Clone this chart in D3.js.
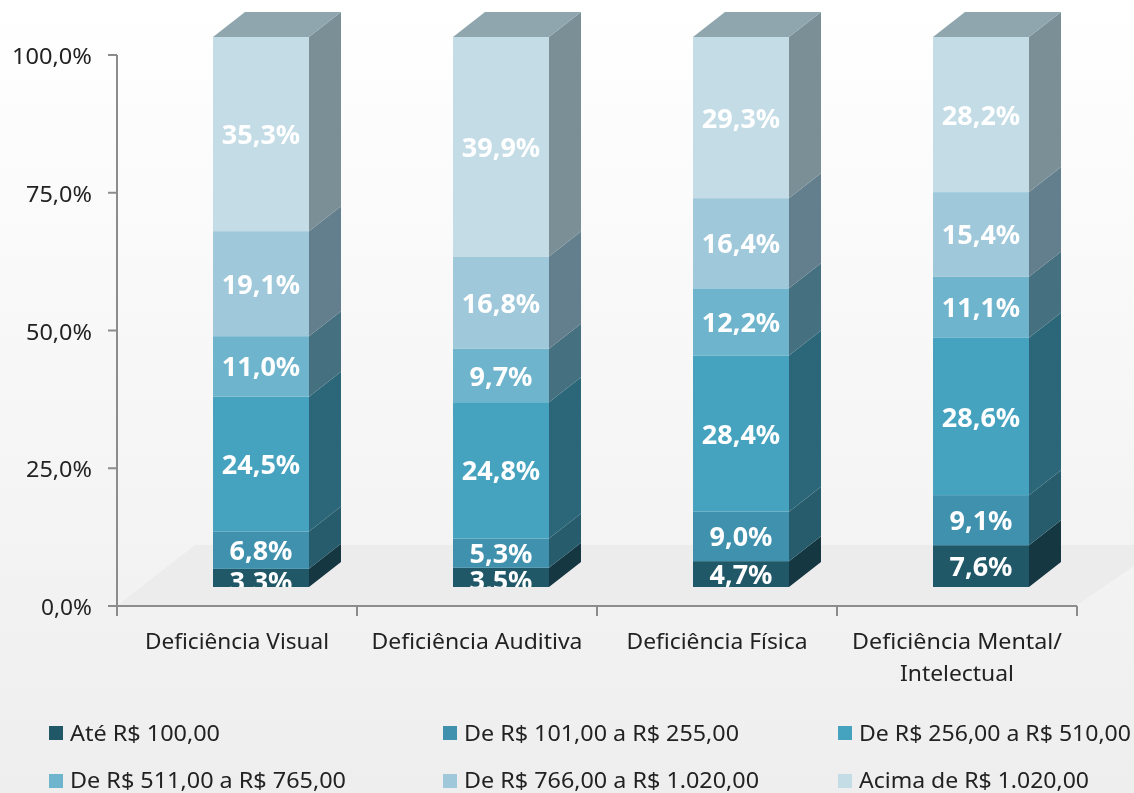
<!DOCTYPE html>
<html><head><meta charset="utf-8">
<script src="https://cdnjs.cloudflare.com/ajax/libs/d3/7.8.5/d3.min.js"></script>
<style>html,body{margin:0;padding:0;background:#fff;overflow:hidden}svg{display:block;filter:blur(.5px)}text{font-family:"Noto Sans"}</style>
</head><body><svg id="c" width="1134" height="793"></svg>
<script>
const categories=["Deficiência Visual","Deficiência Auditiva","Deficiência Física","Deficiência Mental/|Intelectual"];
const seriesNames=["Até R$ 100,00","De R$ 101,00 a R$ 255,00","De R$ 256,00 a R$ 510,00","De R$ 511,00 a R$ 765,00","De R$ 766,00 a R$ 1.020,00","Acima de R$ 1.020,00"];
const s1=[3.3,3.5,4.7,7.6];
const s2=[6.8,5.3,9.0,9.1];
const s3=[24.5,24.8,28.4,28.6];
const s4=[11.0,9.7,12.2,11.1];
const s5=[19.1,16.8,16.4,15.4];
const s6=[35.3,39.9,29.3,28.2];
const seriesValues=[s1,s2,s3,s4,s5,s6];
const axisTicks=[0,25,50,75,100];
const frontColors=["#215868","#3f91ad","#46a3bf","#6db4cc","#9fc8da","#c3dce6"];
const sideColors=["#153742","#275c6c","#2b6779","#44707f","#637f8e","#7a8f96"];
const topColor="#8fa6ae";

const svg=d3.select("#c");
const fmt=v=>v.toFixed(1).replace(".",",")+"%";
const defs=svg.append("defs");
const g=defs.append("linearGradient").attr("id","bg").attr("x1",0).attr("y1",0).attr("x2",0).attr("y2",1);
g.append("stop").attr("offset",0).attr("stop-color","#ffffff");
g.append("stop").attr("offset",.35).attr("stop-color","#f9f9f9");
g.append("stop").attr("offset",1).attr("stop-color","#eeeeee");
svg.append("rect").attr("width",1134).attr("height",793).attr("fill","url(#bg)");

const dx=32,dy=-25;
const axisY=d3.scaleLinear().domain([0,100]).range([606,55]);
const barY=d3.scaleLinear().domain([0,100]).range([587,37]);
const x=d3.scaleBand().domain(categories).range([117,1077]).paddingInner(0).paddingOuter(0);
const barW=96;
const bx=c=>x(c)+x.bandwidth()/2-barW/2+24;

svg.append("path").attr("d","M118,605L195,545L1134,545L1134,566L1077,605Z").attr("fill","#ececec");

categories.forEach((c,ci)=>{
  let acc=0;
  const bg=svg.append("g");
  const left=bx(c);
  seriesValues.forEach((v,i)=>{
    const v0=acc,v1=acc+v[ci];acc=v1;
    const y0=barY(v0),y1=barY(Math.min(v1,100));
    bg.append("path").attr("d",`M${left+barW},${y0}L${left+barW+dx},${y0+dy}L${left+barW+dx},${y1+dy}L${left+barW},${y1}Z`).attr("fill",sideColors[i]);
    bg.append("rect").attr("x",left).attr("y",y1).attr("width",barW).attr("height",y0-y1).attr("fill",frontColors[i]);
  });
  const yt=barY(100);
  bg.append("path").attr("d",`M${left},${yt}L${left+dx},${yt+dy}L${left+barW+dx},${yt+dy}L${left+barW},${yt}Z`).attr("fill",topColor);
});

defs.append("clipPath").attr("id","clip").append("rect").attr("x",0).attr("y",0).attr("width",1134).attr("height",barY(0));
const labels=svg.append("g").attr("clip-path","url(#clip)");
categories.forEach((c,ci)=>{
  let acc=0;
  seriesValues.forEach(v=>{
    const mid=acc+v[ci]/2;acc+=v[ci];
    labels.append("text").attr("x",bx(c)+barW/2).attr("y",barY(mid)+10+(v[ci]<4?3:0))
      .attr("text-anchor","middle").attr("font-weight","bold")
      .attr("font-size",27).attr("fill","#fff").text(fmt(v[ci]));
  });
});

const ax=svg.append("g").attr("stroke","#8c8c8c").attr("stroke-width",2).attr("fill","none");
ax.append("line").attr("x1",117).attr("x2",117).attr("y1",axisY(100)).attr("y2",axisY(0));
ax.append("line").attr("x1",117).attr("x2",x.range()[1]).attr("y1",axisY(0)).attr("y2",axisY(0));
axisTicks.forEach(t=>ax.append("line").attr("x1",108).attr("x2",117).attr("y1",axisY(t)).attr("y2",axisY(t)));
[117,...categories.map(c=>x(c)+x.bandwidth())].forEach(px=>ax.append("line").attr("x1",px).attr("x2",px).attr("y1",axisY(0)).attr("y2",axisY(0)+10));

const fill="#222";
axisTicks.forEach(t=>svg.append("text").attr("x",92).attr("y",axisY(t)+9).attr("text-anchor","end").attr("font-size",22).attr("fill",fill)
  .attr("textLength",t===100?80:t===0?51:66).attr("lengthAdjust","spacingAndGlyphs").text(t.toFixed(1).replace(".",",")+"%"));

const catWidths=[[184],[211],[181],[210,114]];
categories.forEach((c,ci)=>{
  c.split("|").forEach((ln,li)=>{
    svg.append("text").attr("x",x(c)+x.bandwidth()/2).attr("y",649+li*32).attr("text-anchor","middle").attr("font-size",21).attr("fill",fill)
      .attr("textLength",catWidths[ci][li]).attr("lengthAdjust","spacingAndGlyphs").text(ln);
  });
});

const legX=[49,443,838],legY=[733,781],legBase=[741,788];
const legW=[150,275,272,276,295,230];
seriesNames.forEach((n,i)=>{
  const col=i%3,row=Math.floor(i/3);
  svg.append("rect").attr("x",legX[col]).attr("y",legY[row]-7).attr("width",14).attr("height",14).attr("fill",frontColors[i]);
  svg.append("text").attr("x",legX[col]+21).attr("y",legBase[row]).attr("font-size",21).attr("fill",fill)
    .attr("textLength",legW[i]).attr("lengthAdjust","spacingAndGlyphs").text(n);
});
</script></body></html>
